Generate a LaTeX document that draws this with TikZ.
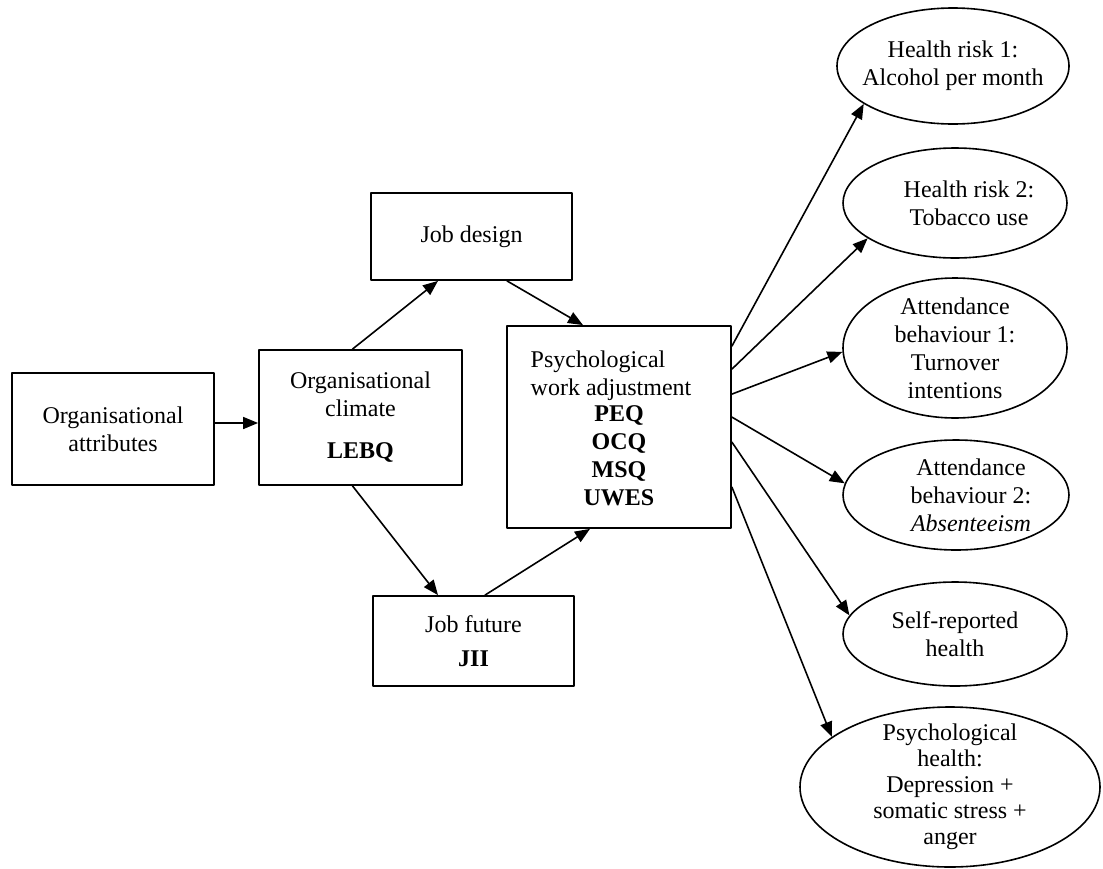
\documentclass[tikz,border=0pt]{standalone}
\usepackage{fontspec}
\setmainfont{Liberation Serif}
\usetikzlibrary{arrows.meta,shapes.geometric}
\tikzset{
  box/.style={draw, line width=0.9pt, rectangle, align=center, inner sep=2pt},
  oval/.style={draw, line width=0.8pt, ellipse, align=center, inner sep=-8pt},
  arr/.style={line width=0.8pt, -{Triangle[length=7.5pt,width=6pt]}}
}
\begin{document}
\begin{tikzpicture}[x=0.5pt, y=-0.5pt, font=\fontsize{12}{14}\selectfont, line join=round, line cap=round]
	\useasboundingbox (0,0) rectangle (1103,868);
	
	% Các khối bên trái
	\node[box, minimum width=101pt, minimum height=56pt] (attr) at (113,429) {Organisational\\attributes};
	\node[box, minimum width=101.5pt, minimum height=67.5pt] (clim) at (360.5,417.5) {Organisational\\climate\\[7pt]\textbf{LEBQ}};
	\node[box, minimum width=100.5pt, minimum height=43.5pt] (jd) at (471.5,236.5) {Job design};
	\node[box, minimum width=100.5pt, minimum height=45pt] (jf) at (473.5,641) {Job future\\[3pt]\textbf{JII}};
	\node[box, minimum width=112pt, minimum height=101pt] (pwa) at (619,427)
		{\begin{tabular}{@{}l@{\hspace{8pt}}}Psychological\\work adjustment\end{tabular}\\\textbf{PEQ}\\\textbf{OCQ}\\\textbf{MSQ}\\\textbf{UWES}};
	
	% Các hình elip bên phải
	\node[oval, minimum width=116pt, minimum height=58pt] (hr1) at (953,66) {Health risk 1:\\Alcohol per month};
	\node[oval, minimum width=112pt, minimum height=55pt] (hr2) at (955,203) {\hspace*{14pt}Health risk 2:\\\hspace*{14pt}Tobacco use};
	\node[oval, minimum width=112pt, minimum height=70pt] (att1) at (955,348) {Attendance\\behaviour 1:\\Turnover\\intentions};
	\node[oval, minimum width=113pt, minimum height=55pt] (att2) at (956,495) {\hspace*{15pt}Attendance\\\hspace*{15pt}behaviour 2:\\\hspace*{15pt}\textit{Absenteeism}};
	\node[oval, minimum width=112pt, minimum height=52pt] (sr) at (955,634) {Self-reported\\health};
	\node[oval, minimum width=150pt, minimum height=80pt, font=\fontsize{12}{13}\selectfont] (ph) at (950,787)
		{Psychological\\health:\\Depression +\\somatic stress +\\anger};
	
	% Các mũi tên
	\draw[arr] ([yshift=3pt]attr.east) -- ([yshift=3pt]attr.east -| clim.west);
	\draw[arr] ([xshift=-4pt]clim.north) -- ([xshift=-16.75pt]jd.south);
	\draw[arr] ([xshift=-4pt]clim.south) -- ([xshift=-17.75pt]jf.north);
	\draw[arr] ([xshift=17.75pt]jd.south) -- ([xshift=-18pt]pwa.north);
	\draw[arr] ([xshift=5.75pt]jf.north) -- ([xshift=-14.5pt]pwa.south);
	\foreach \o/\t/\a in {10.5/hr1/203, 22/hr2/202, 34.5/att1/182, 46/att2/174, 58.5/sr/170, 81/ph/157}
		\draw[arr] ([yshift=-\o pt]pwa.north east) -- (\t.\a);
\end{tikzpicture}
\end{document}
